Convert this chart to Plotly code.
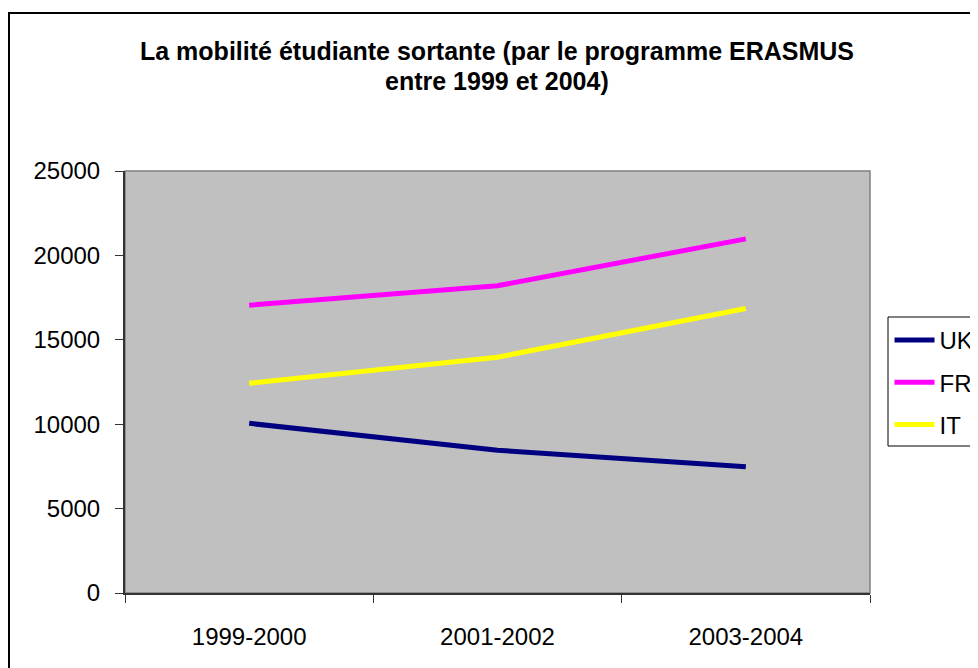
import plotly.graph_objects as go

categories = ["1999-2000", "2001-2002", "2003-2004"]
uk = [10050, 8460, 7480]
fr = [17050, 18200, 20980]
it = [12420, 13970, 16850]
series_names = ["UK", "FR", "IT"]
series_colors = ["#000080", "#FF00FF", "#FFFF00"]
title_lines = ["La mobilité étudiante sortante (par le programme ERASMUS", "entre 1999 et 2004)"]
y_ticks = [0, 5000, 10000, 15000, 20000, 25000]

OFF = 8  # page body margin
W, H = 978 - OFF, 668 - OFF
# plot area in screen pixels -> figure pixels
L, R, T, B = 125 - OFF, 870 - OFF, 171 - OFF, 593 - OFF

def px_x(p):  # screen pixel -> paper fraction
    return (p - OFF - L) / (R - L)

def px_y(p):
    return (B - (p - OFF)) / (B - T)

def cx(p):  # screen pixel -> container fraction
    return (p - OFF) / W

def cy(p):
    return 1 - (p - OFF) / H

fig = go.Figure()
for name, vals, col in zip(series_names, [uk, fr, it], series_colors):
    fig.add_trace(go.Scatter(
        x=categories, y=vals, mode="lines", name=name,
        line=dict(color=col, width=5), legendgroup=name,
    ))

font = "Liberation Sans, Arial, sans-serif"

fig.update_layout(
    width=W, height=H,
    margin=dict(l=L, r=W - R, t=T, b=H - B, pad=0),
    paper_bgcolor="white",
    plot_bgcolor="#C0C0C0",
    showlegend=True,
    legend=dict(
        xref="container", yref="container",
        x=cx(889.5), y=cy(318), xanchor="left", yanchor="top",
        bgcolor="rgba(0,0,0,0)", borderwidth=0,
        font=dict(family=font, size=24, color="black"),
        traceorder="grouped", tracegroupgap=8, itemwidth=40,
    ),
    font=dict(family=font, color="black"),
    xaxis=dict(
        type="category", range=[-0.5, 2.5],
        showgrid=False, zeroline=False,
        ticks="outside", tickson="boundaries", ticklen=8, tickcolor="#333333", tickwidth=1,
        showline=True, linecolor="#333333", linewidth=2,
        tickfont=dict(family=font, size=24, color="black"),
        ticklabelstandoff=21,
    ),
    yaxis=dict(
        range=[0, 25000], tickvals=y_ticks, ticktext=[str(v) for v in y_ticks],
        showgrid=False, zeroline=False,
        ticks="outside", ticklen=8, tickcolor="#333333", tickwidth=1,
        showline=True, linecolor="#333333", linewidth=2,
        tickfont=dict(family=font, size=24, color="black"),
        ticklabelstandoff=10,
    ),
    shapes=[
        dict(type="rect", xref="paper", yref="paper", x0=0, x1=1, y0=0, y1=1,
             line=dict(color="#808080", width=1.5), fillcolor="rgba(0,0,0,0)", layer="below"),
        dict(type="rect", xref="paper", yref="paper",
             x0=px_x(9), x1=px_x(1010), y0=px_y(720), y1=px_y(13),
             line=dict(color="black", width=2), fillcolor="rgba(0,0,0,0)"),
        dict(type="rect", xref="paper", yref="paper",
             x0=px_x(888), x1=px_x(1010), y0=px_y(446), y1=px_y(317),
             line=dict(color="black", width=1), fillcolor="white", layer="below"),
    ],
    annotations=[
        dict(text="<b>%s</b>" % title_lines[0], xref="paper", yref="paper",
             x=px_x(497), y=px_y(51), xanchor="center", yanchor="middle", showarrow=False,
             font=dict(family=font, size=25, color="black")),
        dict(text="<b>%s</b>" % title_lines[1], xref="paper", yref="paper",
             x=px_x(497), y=px_y(81), xanchor="center", yanchor="middle", showarrow=False,
             font=dict(family=font, size=25, color="black")),
    ],
)

fig.write_html("out.html")
